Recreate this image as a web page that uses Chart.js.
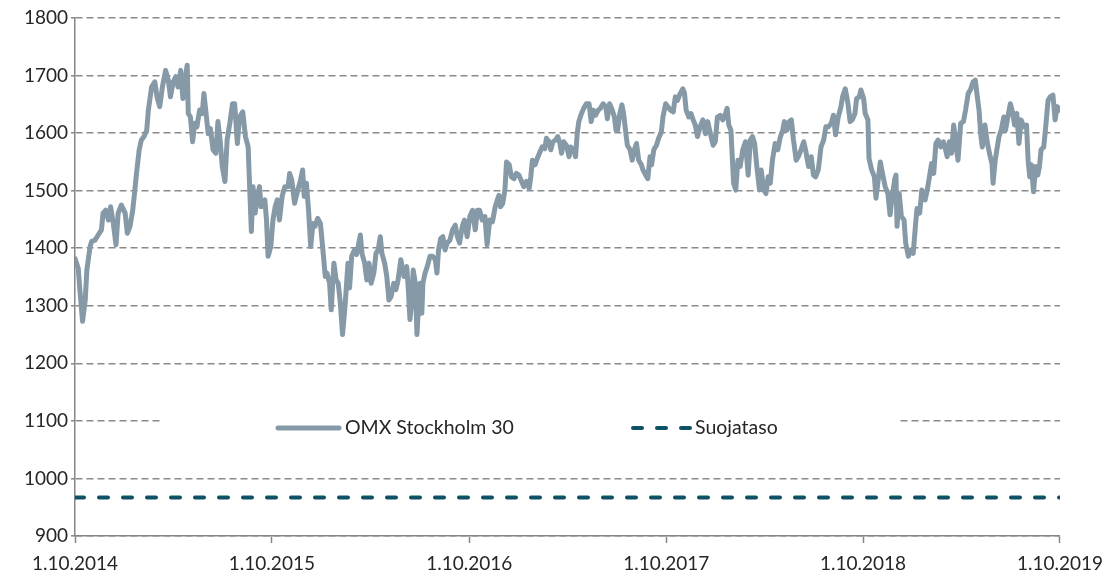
<!DOCTYPE html>
<html lang="fi">
<head>
  <meta charset="UTF-8">
  <title>OMX Stockholm 30</title>
  <script src="https://cdn.jsdelivr.net/npm/chart.js"></script>
  <style>
    html, body { margin: 0; padding: 0; background: #fff; }
    #wrap { width: 1112px; height: 575px; }
  </style>
</head>
<body>
  <div id="wrap"><canvas id="omxChart" width="1112" height="575"></canvas></div>

  <script>
    // days counted from 1.10.2014
    const dayOffsets = [
      0, 6, 9, 14, 19, 22, 28, 31, 37, 43, 49, 52, 57, 62, 66, 71, 76, 80, 86, 93, 97, 102, 107, 111, 114, 119, 123, 128, 133, 136,
      142, 148, 152, 157, 162, 168, 173, 177, 182, 187, 191, 196, 200, 205, 208, 210, 214, 218, 222, 226, 231, 236, 239, 242, 247,
      251, 256, 261, 265, 269, 273, 278, 282, 287, 292,
      296, 301, 305, 311, 316, 321, 324, 327, 330, 334, 338, 342, 345, 352, 355, 358, 363, 367, 371, 375, 379, 384, 389, 395, 398,
      402, 407, 413, 418, 422, 425, 429, 433, 437, 441, 445, 450, 455, 459, 464, 467, 472, 475, 480, 484, 488, 492, 496, 501, 506,
      509, 513, 518, 522, 525, 529, 532, 537, 541, 545, 549, 554, 558, 562, 566, 569, 574, 578, 582, 586, 591, 595, 599, 604,
      610, 615, 618, 621, 624, 627, 631, 634, 637, 640, 643, 645, 649, 653, 658, 663, 668, 671, 674, 678, 682, 686, 690, 695, 700,
      705, 709, 713, 718, 722, 727, 732, 737, 742, 746, 750, 755, 760, 764, 769, 774, 779, 783, 786, 789, 793, 797, 800, 805, 809,
      814, 818, 823, 828, 832, 837, 842, 845, 848, 853, 857, 861, 866, 871, 874, 879, 882, 886, 891, 895, 899, 902, 906, 911,
      916, 919, 924, 928, 931, 934, 939, 943, 948, 953, 957, 961, 965, 970, 974, 979, 984, 987, 991, 996, 1000, 1003, 1006, 1010,
      1014, 1017, 1021, 1024, 1029, 1033, 1037, 1041, 1045, 1050, 1053, 1058, 1062, 1066, 1069, 1073, 1078, 1082, 1087, 1090, 1095,
      1099, 1104, 1109, 1113, 1117, 1122, 1127, 1130, 1133, 1138, 1142, 1146, 1150, 1154, 1159, 1164, 1169, 1173, 1178, 1183, 1187,
      1191, 1196, 1201, 1206, 1209, 1212, 1216,
      1221, 1225, 1229, 1233, 1238, 1243, 1248, 1252, 1256, 1260, 1264, 1269, 1272, 1277, 1281, 1285, 1289, 1293, 1298, 1303, 1307,
      1312, 1315, 1320, 1324, 1328, 1332, 1337, 1341, 1346, 1351, 1355, 1360, 1365, 1369, 1373, 1378, 1383, 1388, 1392, 1397, 1402,
      1406, 1410, 1415, 1420, 1423, 1428, 1433, 1437, 1441, 1446, 1449, 1454, 1457, 1462, 1465, 1470, 1472, 1477, 1482, 1485, 1489,
      1493, 1497, 1502, 1507, 1511, 1515, 1520,
      1522, 1524, 1528, 1532, 1537, 1540, 1545, 1549, 1554, 1558, 1561, 1566, 1570, 1576, 1580, 1584, 1588, 1592, 1596, 1600, 1605,
      1610, 1614, 1617, 1621, 1625, 1629, 1633, 1637, 1642, 1647, 1651, 1656, 1660, 1665, 1669, 1672, 1676, 1679, 1682, 1687, 1691,
      1696, 1700, 1702, 1706, 1709, 1713, 1717, 1722, 1725, 1730, 1734, 1738, 1742, 1746, 1750, 1754, 1759, 1764, 1767, 1770, 1773,
      1777, 1781, 1785, 1788, 1791, 1796, 1799, 1804, 1808, 1813, 1817, 1821, 1825
    ];

    const omxValues = [
      1382, 1365, 1328, 1273, 1310, 1362, 1403, 1412, 1414, 1423, 1432, 1461, 1466, 1449, 1472, 1443, 1406, 1461, 1475, 1461, 1426,
      1438, 1466, 1501, 1530, 1571, 1588, 1594, 1605, 1640, 1680, 1689, 1663, 1646, 1680, 1709, 1692, 1663, 1689, 1698, 1680, 1709,
      1660, 1698, 1718, 1634, 1628, 1585, 1617, 1611, 1640, 1634, 1669, 1643, 1599, 1608, 1571, 1565, 1620, 1588, 1542, 1516, 1588,
      1617, 1651,
      1651, 1582, 1628, 1637, 1594, 1576, 1501, 1429, 1507, 1461, 1490, 1507, 1472, 1484, 1449, 1386, 1403, 1449, 1472, 1484, 1449,
      1490, 1507, 1507, 1530, 1518, 1478, 1501, 1518, 1536, 1490, 1513, 1466, 1403, 1443, 1438, 1452, 1443, 1403, 1351, 1357, 1339,
      1293, 1374, 1345, 1339, 1304, 1250, 1304, 1374, 1331, 1386, 1397, 1389, 1403, 1423, 1391, 1374, 1345, 1374, 1339, 1357, 1391,
      1397, 1420, 1391, 1374, 1351, 1310, 1316, 1339, 1328, 1345, 1380,
      1351, 1368, 1328, 1276, 1304, 1362, 1339, 1250, 1304, 1339, 1287, 1339, 1357, 1368, 1386, 1386, 1380, 1357, 1397, 1417, 1420,
      1397, 1409, 1414, 1432, 1440, 1420, 1409, 1438, 1449, 1420, 1455, 1466, 1432, 1466, 1466, 1449, 1455, 1406, 1449, 1446, 1472,
      1484, 1492, 1472, 1478, 1501, 1550, 1545, 1524, 1521, 1530, 1527, 1516, 1507, 1516, 1504, 1524, 1553, 1545, 1556, 1565, 1576,
      1573, 1591, 1585, 1571, 1585, 1588, 1594, 1582, 1565, 1585, 1579,
      1559, 1576, 1571, 1559, 1599, 1620, 1634, 1643, 1651, 1651, 1620, 1640, 1631, 1640, 1643, 1651, 1646, 1625, 1651, 1640, 1628,
      1605, 1605, 1634, 1649, 1634, 1602, 1579, 1571, 1553, 1571, 1582, 1553, 1545, 1536, 1527, 1521, 1559, 1545, 1571, 1579, 1591,
      1602, 1628, 1651, 1646, 1640, 1637, 1663, 1657, 1669, 1677, 1669, 1640, 1628, 1634, 1623, 1614, 1594, 1611, 1623, 1599, 1620,
      1599, 1579, 1585, 1628, 1631, 1623, 1634, 1643, 1614, 1605,
      1513, 1501, 1553, 1542, 1571, 1585, 1527, 1588, 1594, 1582, 1542, 1501, 1536, 1501, 1495, 1524, 1513, 1553, 1582, 1571, 1591,
      1605, 1620, 1605, 1620, 1623, 1588, 1553, 1559, 1571, 1585, 1568, 1542, 1559, 1527, 1524, 1536, 1576, 1588, 1611, 1611, 1617,
      1631, 1597, 1628, 1646, 1663, 1677, 1651, 1620, 1623, 1634, 1660, 1663, 1675, 1660, 1634, 1623, 1556, 1536, 1524, 1487, 1518,
      1550, 1530, 1507, 1495, 1458, 1490, 1521,
      1527, 1438, 1495, 1455, 1449, 1409, 1386, 1397, 1391, 1438, 1469, 1461, 1501, 1484, 1501, 1524, 1547, 1530, 1582, 1588, 1576,
      1585, 1571, 1559, 1585, 1565, 1614, 1582, 1553, 1617, 1620, 1640, 1669, 1675, 1689, 1692, 1669, 1640, 1599, 1576, 1614, 1585,
      1562, 1547, 1513, 1553, 1571, 1594, 1605, 1628, 1605, 1631, 1651, 1637, 1614, 1634, 1582, 1623, 1611, 1614, 1553, 1524, 1545,
      1498, 1542, 1527, 1542, 1571, 1576, 1605, 1657, 1663, 1666, 1623, 1646, 1640
    ];

    const suojataso = 967;

    const tickDays = [0, 365, 731, 1096, 1461, 1826];
    const tickLabels = ['1.10.2014', '1.10.2015', '1.10.2016', '1.10.2017', '1.10.2018', '1.10.2019'];

    const omxColor = '#8599a7';
    const suojaColor = '#0d5264';
    const textColor = '#262626';
    const axisColor = '#868686';
    const fontFamily = 'Lato';

    // legend sits inside the plot on a white strip, like the original
    const legendBox = {
      id: 'legendBox',
      beforeDatasetsDraw(chart) {
        const ctx = chart.ctx;
        const y = 428;
        ctx.save();
        ctx.fillStyle = '#fff';
        ctx.fillRect(160, 408, 738, 40);

        ctx.lineCap = 'round';
        ctx.lineWidth = 5;
        ctx.strokeStyle = omxColor;
        ctx.beginPath();
        ctx.moveTo(278, y);
        ctx.lineTo(339, y);
        ctx.stroke();

        ctx.lineWidth = 4;
        ctx.strokeStyle = suojaColor;
        ctx.setLineDash([9, 15]);
        ctx.beginPath();
        ctx.moveTo(633, y);
        ctx.lineTo(690, y);
        ctx.stroke();
        ctx.setLineDash([]);

        ctx.fillStyle = textColor;
        ctx.font = '19.5px ' + fontFamily;
        ctx.textBaseline = 'middle';
        ctx.fillText(chart.data.datasets[0].label, 345, y);
        ctx.fillText(chart.data.datasets[1].label, 695, y);
        ctx.restore();
      }
    };

    const ctx = document.getElementById('omxChart').getContext('2d');
    new Chart(ctx, {
      type: 'line',
      data: {
        datasets: [
          {
            label: 'OMX Stockholm 30',
            data: omxValues.map((v, i) => ({ x: dayOffsets[i], y: v })),
            borderColor: omxColor,
            borderWidth: 5,
            borderJoinStyle: 'round',
            borderCapStyle: 'round',
            pointRadius: 0,
            tension: 0,
          },
          {
            label: 'Suojataso',
            data: [{ x: 0, y: suojataso }, { x: 1826, y: suojataso }],
            borderColor: suojaColor,
            borderWidth: 4,
            borderDash: [9, 15],
            borderCapStyle: 'round',
            pointRadius: 0,
          },
        ],
      },
      options: {
        responsive: false,
        animation: false,
        layout: { padding: { top: 18, right: 50, left: 0, bottom: 0 } },
        plugins: {
          legend: { display: false },
          tooltip: { enabled: false },
        },
        scales: {
          x: {
            type: 'linear',
            min: 0,
            max: 1826,
            afterBuildTicks: (scale) => { scale.ticks = tickDays.map(v => ({ value: v })); },
            afterFit: (scale) => { scale.height = 39; },
            ticks: {
              autoSkip: false,
              maxRotation: 0,
              padding: 9,
              color: textColor,
              font: { family: fontFamily, size: 19 },
              callback: (v, i) => tickLabels[i],
            },
            grid: {
              drawOnChartArea: false,
              drawTicks: true,
              tickLength: 7,
              tickColor: axisColor,
              tickWidth: 1.5,
            },
            border: { color: axisColor, width: 1.5 },
          },
          y: {
            min: 900,
            max: 1800,
            afterFit: (scale) => { scale.width = 75; },
            ticks: {
              stepSize: 100,
              padding: 3,
              color: textColor,
              font: { family: fontFamily, size: 19 },
              callback: (v) => String(v),
            },
            grid: {
              color: '#8a8a8a',
              lineWidth: 1.6,
              tickLength: 4,
              tickColor: axisColor,
              tickWidth: 1.5,
              tickBorderDash: [],
            },
            border: { color: axisColor, width: 1.5, dash: [7, 4] },
          },
        },
      },
      plugins: [legendBox],
    });
  </script>
</body>
</html>
